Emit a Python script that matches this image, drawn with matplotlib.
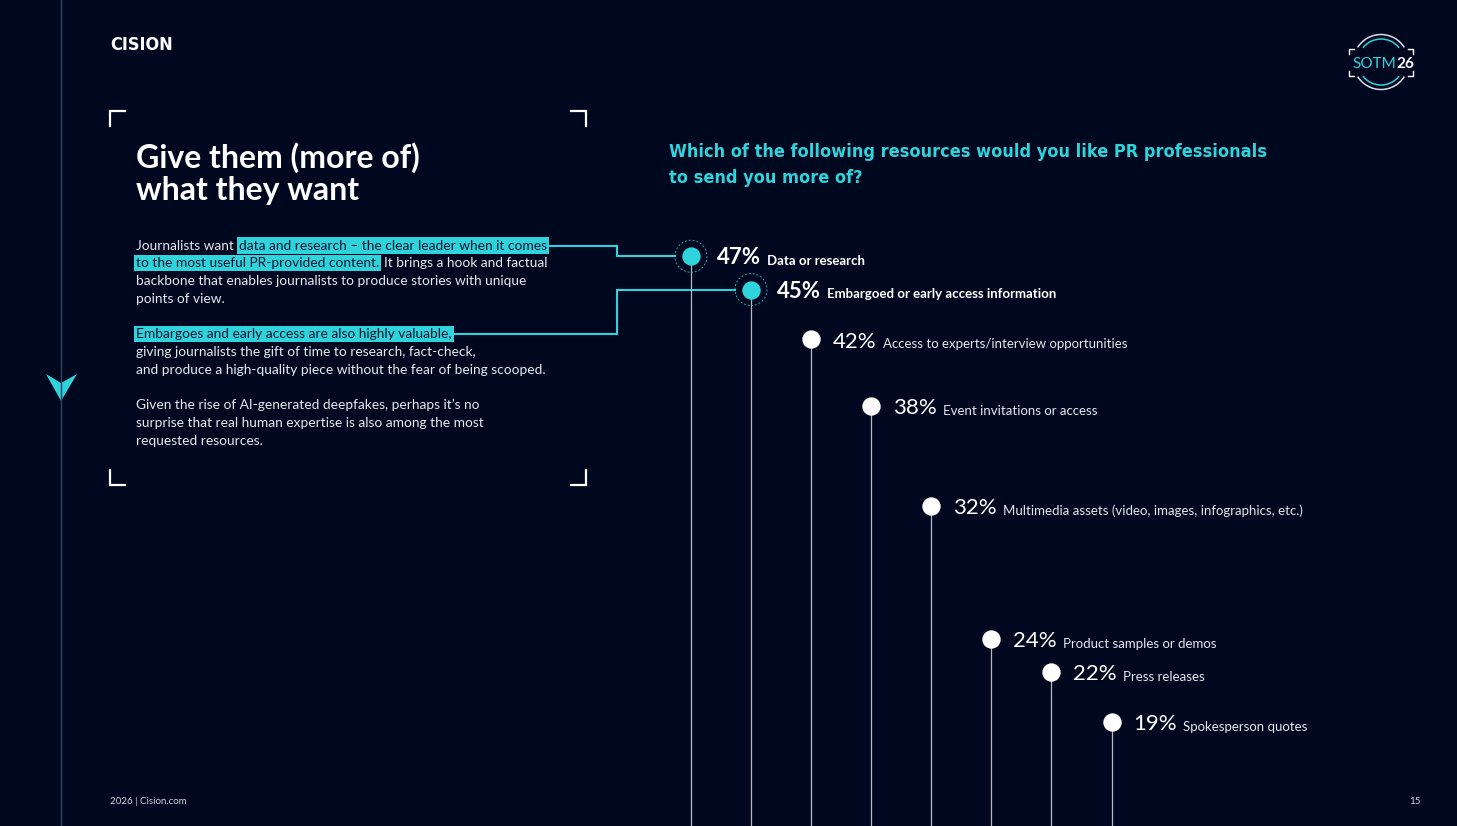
import numpy as np
import matplotlib
matplotlib.use("Agg")
import matplotlib.pyplot as plt
from matplotlib import patches, transforms
from matplotlib import font_manager as fm

# datos de la grafica
resources = ["Data or research",
             "Embargoed or early access information",
             "Access to experts/interview opportunities",
             "Event invitations or access",
             "Multimedia assets (video, images, infographics, etc.)",
             "Product samples or demos",
             "Press releases",
             "Spokesperson quotes"]
shares = [47, 45, 42, 38, 32, 24, 22, 19]
n_top = 2  # los dos primeros van resaltados

question = "Which of the following resources would you like PR professionals\nto send you more of?"
heading = "Give them (more of)\nwhat they want"
# cada linea: lista de (texto, resaltado)
body = [
    [("Journalists want", False), ("data and research \u2013 the clear leader when it comes", True)],
    [("to the most useful PR-provided content.", True), ("It brings a hook and factual", False)],
    [("backbone that enables journalists to produce stories with unique", False)],
    [("points of view.", False)],
    [],
    [("Embargoes and early access are also highly valuable,", True)],
    [("giving journalists the gift of time to research, fact-check,", False)],
    [("and produce a high-quality piece without the fear of being scooped.", False)],
    [],
    [("Given the rise of AI-generated deepfakes, perhaps it\u2019s no", False)],
    [("surprise that real human expertise is also among the most", False)],
    [("requested resources.", False)],
]

W, H = 1457, 826
BG = "#000820"
CYAN = "#2ed3dc"
FONT = "Lato"

names = {f.name for f in fm.fontManager.ttflist}
if "Liberation Sans Narrow" in names:
    COND = dict(family="Liberation Sans Narrow")
else:
    COND = dict(family="DejaVu Sans", fontstretch="condensed")

fig = plt.figure(figsize=(W / 100, H / 100), dpi=100, facecolor=BG)

# capa de decoracion en pixeles (origen arriba a la izquierda)
deco = fig.add_axes([0, 0, 1, 1])
deco.set_xlim(0, W)
deco.set_ylim(H, 0)
deco.axis("off")

# ejes de la grafica: x = posicion, y = porcentaje
ax = fig.add_axes([0, 0, 1, 1])
ax.set_xlim(-11.5, 12.75)
ax.set_ylim(12.76, 62.4)
ax.axis("off")

x = np.arange(len(shares))
y0 = ax.get_ylim()[0]
ax.vlines(x, y0, shares, color="#b4b8c4", lw=0.9, zorder=2)
ax.scatter(x[:n_top], shares[:n_top], s=175, color=CYAN, zorder=4, linewidths=0)
ax.scatter(x[n_top:], shares[n_top:], s=175, color="white", zorder=4, linewidths=0)

for i in range(n_top):
    tr = fig.dpi_scale_trans + transforms.ScaledTranslation(x[i], shares[i], ax.transData)
    ring = patches.Circle((0, 0), 0.16, transform=tr, fill=False, ec=CYAN, lw=0.7,
                          ls=(0, (2, 2)), alpha=0.8, zorder=3)
    ax.add_patch(ring)

for i, (lab, v) in enumerate(zip(resources, shares)):
    top = i < n_top
    t = ax.annotate(f"{v}%", xy=(x[i], v), xytext=(18.5 if top else 15.5, -5.8),
                    textcoords="offset points", va="baseline", ha="left",
                    fontsize=16, fontweight="bold" if top else "normal",
                    color="white", family=FONT, zorder=5)
    ax.annotate(lab, xy=(1, 0), xycoords=t, xytext=(4.5, 0.9), textcoords="offset points",
                va="bottom", ha="left", fontsize=9.5, family=FONT,
                fontweight="bold" if top else "normal",
                color="white" if top else "#e4e6ec", zorder=5)

# linea vertical izquierda y flecha
deco.plot([61, 61], [0, H], color="#32425f", lw=1)
deco.add_patch(patches.Polygon([(46, 374), (61, 383), (77, 374), (61, 401)],
                               closed=True, color=CYAN, lw=0))

# esquinas del recuadro
k = 15
for cx, cy, sx, sy in [(110, 111, 1, 1), (586, 111, -1, 1), (110, 485, 1, -1), (586, 485, -1, -1)]:
    deco.plot([cx, cx, cx + sx * k], [cy + sy * k, cy, cy], color="white", lw=1.6,
              solid_joinstyle="miter")

deco.text(110, 50, "CISION", color="white", fontsize=13, fontweight="bold",
          va="baseline", ha="left", **COND)

for j, ln in enumerate(heading.split("\n")):
    deco.text(136, 168 + 32 * j, ln, color="white", fontsize=23, fontweight="bold",
              family=FONT, va="baseline", ha="left")

for j, ln in enumerate(question.split("\n")):
    deco.text(669, 157 + 26 * j, ln, color=CYAN, fontsize=13, fontweight="bold",
              va="baseline", ha="left", **COND)

# texto del cuerpo con resaltados
highlights = []
for li, line in enumerate(body):
    yb = 249.5 + 17.75 * li
    prev = None
    for seg, hl in line:
        kw = dict(fontsize=9.9, family=FONT, va="baseline", ha="left",
                  color="#0a1430" if hl else "#e6e8ee")
        if hl:
            kw["bbox"] = dict(boxstyle="square,pad=0.16", fc=CYAN, ec="none")
        if prev is None:
            t = deco.annotate(seg, xy=(136, yb), **kw)
        else:
            t = deco.annotate(seg, xy=(1, 0), xycoords=prev, xytext=(3.6, 0),
                              textcoords="offset points", **{**kw, "va": "bottom"})
        if hl:
            highlights.append((li, t))
        prev = t

deco.text(110, 801, "2026 | Cision.com", color="#d0d3da", fontsize=7, family=FONT,
          va="center", ha="left")
deco.text(1421, 801, "15", color="#d0d3da", fontsize=7, family=FONT,
          va="center", ha="right")

# logo SOTM26
lx, ly = 1381, 62
for t1, t2 in [(32, 148), (212, 328)]:
    deco.add_patch(patches.Arc((lx, ly), 55, 55, theta1=t1, theta2=t2, color="#d8dce4", lw=1.1))
    deco.add_patch(patches.Arc((lx, ly), 46, 46, theta1=t1 + 6, theta2=t2 - 6, color=CYAN, lw=1.1))
c = 5
for cx, cy, sx, sy in [(1349, 49, 1, 1), (1413, 49, -1, 1), (1349, 76, 1, -1), (1413, 76, -1, -1)]:
    deco.plot([cx, cx, cx + sx * c], [cy + sy * c, cy, cy], color="white", lw=1)
s1 = deco.text(1352, 68, "SOTM", color=CYAN, fontsize=11, family=FONT,
               fontweight="normal", va="baseline", ha="left")
deco.annotate("26", xy=(1, 0), xycoords=s1, xytext=(0.3, 0), textcoords="offset points",
              color="white", fontsize=11, family=FONT, fontweight="bold", va="bottom", ha="left")

# conectores desde el texto resaltado a los puntos
fig.canvas.draw()
inv = deco.transData.inverted()
ends = {}
for li, t in highlights:
    bb = t.get_bbox_patch().get_window_extent()
    x1, _ = inv.transform((bb.x1, 0))
    _, yc = inv.transform((0, (bb.y0 + bb.y1) / 2))
    ends[li] = (x1, yc)
for li, i in [(0, 0), (5, 1)]:
    x1, yc = ends[li]
    px, py = inv.transform(ax.transData.transform((x[i], shares[i])))
    deco.plot([x1, 617, 617, px - 16], [yc, yc, py, py], color=CYAN, lw=1.5,
              solid_joinstyle="miter", zorder=1)

fig.savefig("out.png", dpi=100, facecolor=BG)
